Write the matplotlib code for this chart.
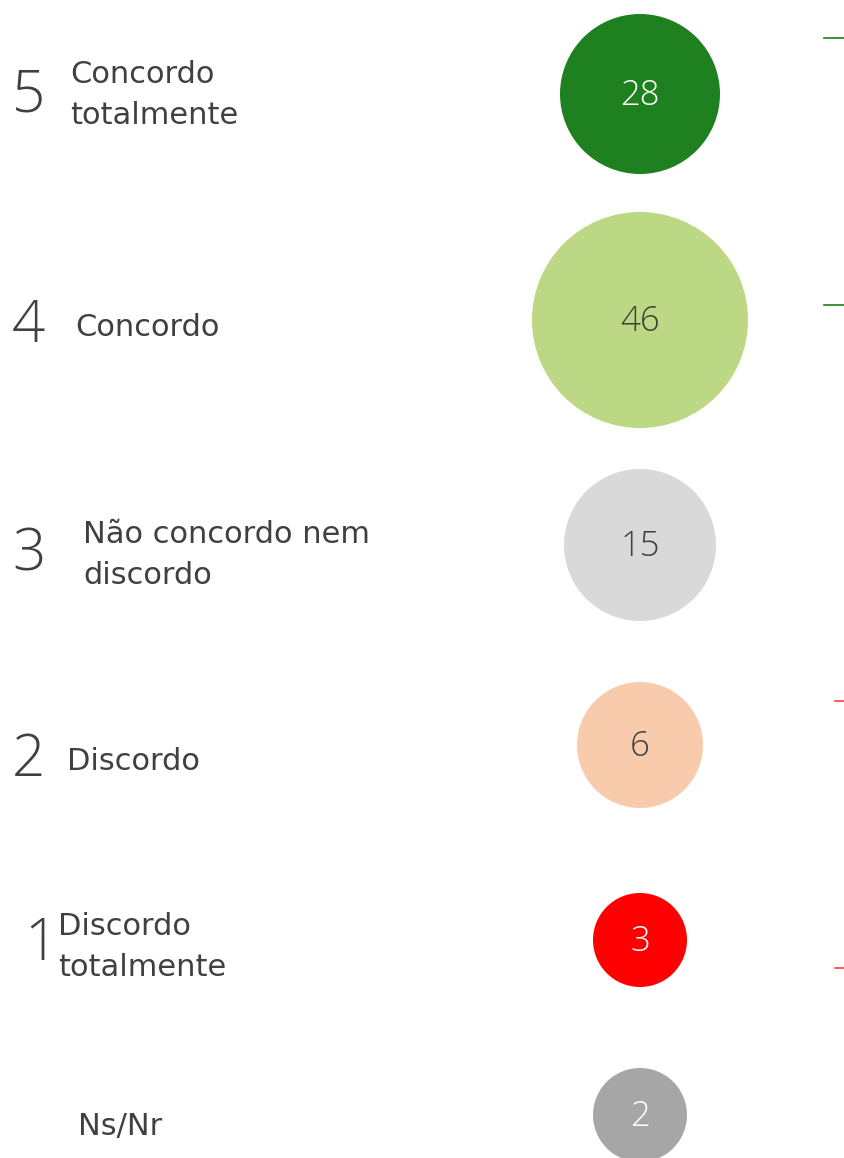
import matplotlib
matplotlib.use("Agg")
import matplotlib.pyplot as plt
from matplotlib.patches import Circle

plt.rcParams["font.family"] = ["DejaVu Sans"]

# data
codes = ["5", "4", "3", "2", "1", ""]
labels = [
    "Concordo\ntotalmente",
    "Concordo",
    "Não concordo nem\ndiscordo",
    "Discordo",
    "Discordo\ntotalmente",
    "Ns/Nr",
]
values = [28, 46, 15, 6, 3, 2]

# layout / style (pixels)
row_y = [94, 320, 545, 745, 940, 1115]
diameters = [160, 216, 152, 126, 94, 94]
colors = ["#1E801E", "#BDD885", "#D9D9D9", "#F8CBAD", "#FF0000", "#A6A6A6"]
num_colors = ["white", "#404040", "#404040", "#404040", "white", "white"]
code_x = [12, 12, 12, 12, 24, 0]
code_y = [96, 327, 555, 760, 945, 0]
label_x = [70, 75, 83, 67, 58, 78]
label_y = [95, 327, 555, 761, 947, 1127]
circle_x = 640

W, H = 844, 1158
fig = plt.figure(figsize=(W / 100, H / 100), dpi=100)
ax = fig.add_axes([0, 0, 1, 1])
ax.set_xlim(0, W)
ax.set_ylim(H, 0)
ax.axis("off")

text_col = "#404040"
for i, v in enumerate(values):
    y = row_y[i]
    ax.add_patch(Circle((circle_x, y), diameters[i] / 2, color=colors[i], lw=0))
    ax.text(circle_x, y + 2, str(v), ha="center", va="center", fontsize=25,
            color=num_colors[i], family=["Open Sans", "DejaVu Sans"],
            fontweight="light")
    if codes[i]:
        ax.text(code_x[i], code_y[i], codes[i], ha="left", va="center",
                fontsize=42, color=text_col,
                family=["Open Sans", "DejaVu Sans"], fontweight="light")
    ax.text(label_x[i], label_y[i], labels[i], ha="left", va="center",
            fontsize=22, color=text_col, linespacing=1.5)

# small marks at the right edge
ax.plot([824, W], [38, 38], color="#1E801E", lw=1.2)
ax.plot([824, W], [305, 305], color="#1E801E", lw=1.2)
ax.plot([835, W], [701, 701], color="#FF4040", lw=1.2)
ax.plot([835, W], [968, 968], color="#FF4040", lw=1.2)

fig.savefig("out.png", dpi=100)
